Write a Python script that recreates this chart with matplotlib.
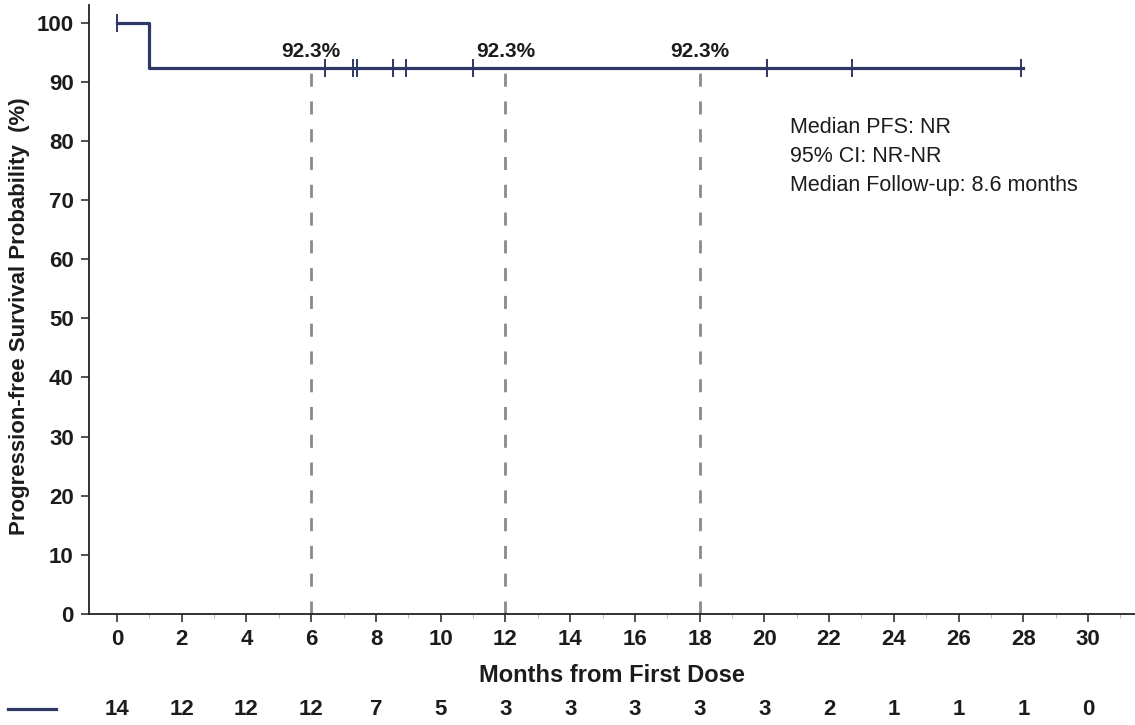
import numpy as np
import matplotlib.pyplot as plt
from matplotlib.lines import Line2D
from matplotlib.ticker import MultipleLocator

plt.rcParams['font.family'] = ['Liberation Sans', 'DejaVu Sans']

# Kaplan-Meier step curve (months, % progression-free)
step_times = [0, 1.0, 28.0]
step_surv = [100, 92.3, 92.3]
censor_times = [0, 6.43, 7.30, 7.40, 8.54, 8.93, 10.99, 20.07, 22.70, 27.92]
censor_surv = [100, 92.3, 92.3, 92.3, 92.3, 92.3, 92.3, 92.3, 92.3, 92.3]

# Landmark estimates
landmark_months = [6, 12, 18]
landmark_pct = [92.3, 92.3, 92.3]

# Number at risk
risk_months = [0, 2, 4, 6, 8, 10, 12, 14, 16, 18, 20, 22, 24, 26, 28, 30]
risk_counts = [14, 12, 12, 12, 7, 5, 3, 3, 3, 3, 3, 2, 1, 1, 1, 0]

summary_lines = ['Median PFS: NR', '95% CI: NR-NR', 'Median Follow-up: 8.6 months']

line_color = '#2d3866'
text_color = '#1c1c1c'
dash_color = '#8e8984'

fig = plt.figure(figsize=(11.35, 7.25), dpi=100)
ax = fig.add_axes([0.0784, 0.1531, 0.9216, 0.840])

ax.step(step_times, step_surv, where='post', color=line_color, lw=2.3, zorder=3)
ax.plot(censor_times, censor_surv, ls='none', marker='|', ms=13, mew=1.4,
        color=line_color, zorder=4)

for m, p in zip(landmark_months, landmark_pct):
    ax.plot([m, m], [0, p - 0.8], color=dash_color, lw=2.0, dashes=(4.7, 5.3), zorder=2)
    ax.text(m, p + 2.9, f'{p:.1f}%', ha='center', va='center', fontsize=15,
            fontweight='bold', color=text_color)

for i, s in enumerate(summary_lines):
    ax.text(20.8, 82.2 - i * 4.9, s, ha='left', va='center', fontsize=15.5,
            color=text_color)

ax.set_xlim(-0.865, 31.45)
ax.set_ylim(0, 103)
ax.xaxis.set_major_locator(MultipleLocator(2))
ax.xaxis.set_minor_locator(MultipleLocator(1))
ax.yaxis.set_major_locator(MultipleLocator(10))

for side in ['top', 'right']:
    ax.spines[side].set_visible(False)
for side in ['left', 'bottom']:
    ax.spines[side].set_color('#222222')
    ax.spines[side].set_linewidth(1.3)

ax.tick_params(axis='both', which='major', length=6, width=1.2, color='#333333',
               labelsize=16, labelcolor=text_color, pad=5)
ax.tick_params(axis='x', which='minor', length=3, width=0.8, color='#bbbbbb')
for lab in ax.get_xticklabels() + ax.get_yticklabels():
    lab.set_fontweight('bold')

ax.set_xlabel('Months from First Dose', fontsize=17, fontweight='bold',
              color=text_color, labelpad=10)
ax.set_ylabel('Progression-free Survival Probability  (%)', fontsize=16,
              fontweight='bold', color=text_color)
ax.yaxis.set_label_coords(-0.056, 0.489)

# Number-at-risk row under the axis
trans = ax.get_xaxis_transform()
for m, n in zip(risk_months, risk_counts):
    ax.text(m, -0.156, str(n), transform=trans, ha='center', va='center',
            fontsize=16, fontweight='bold', color=text_color, clip_on=False)
fig.add_artist(Line2D([0.007, 0.049], [0.022, 0.022], color=line_color, lw=2.3))

fig.savefig('out.png', dpi=100)
